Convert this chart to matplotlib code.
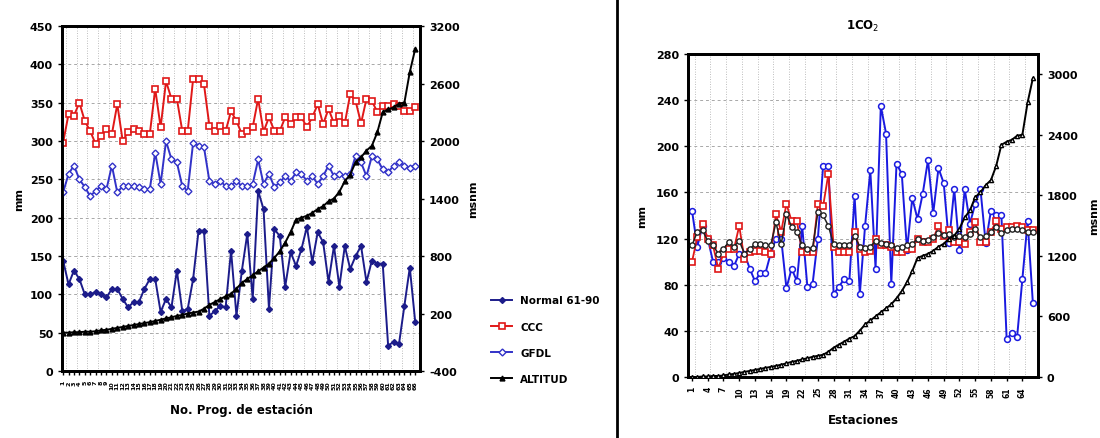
import matplotlib
matplotlib.use("Agg")
import matplotlib.pyplot as plt
from matplotlib.lines import Line2D

# stations ordered by altitude (same stations on both panels)
stations = list(range(1, 67))

normal_6190 = [144, 113, 131, 120, 100, 100, 103, 100, 96, 107,
               107, 94, 83, 90, 90, 107, 120, 120, 77, 94,
               83, 131, 78, 81, 120, 183, 183, 72, 78, 85,
               83, 157, 72, 131, 179, 94, 235, 211, 81, 185,
               176, 110, 155, 137, 159, 188, 142, 181, 168, 116,
               163, 110, 163, 133, 150, 163, 116, 144, 140, 140,
               33, 38, 35, 85, 135, 64]

altitud = [0, 0, 5, 5, 10, 10, 15, 25, 30, 40,
           50, 60, 70, 80, 90, 100, 110, 122, 135, 150,
           160, 175, 185, 200, 210, 220, 250, 290, 320, 350,
           380, 405, 460, 520, 560, 600, 640, 680, 720, 780,
           850, 940, 1050, 1180, 1200, 1220, 1250, 1290, 1320, 1370,
           1400, 1470, 1580, 1650, 1780, 1830, 1900, 1950, 2090, 2300,
           2330, 2350, 2390, 2400, 2720, 2960]

ccc_left = [298, 335, 333, 350, 326, 313, 296, 307, 316, 309,
            348, 300, 312, 316, 313, 309, 309, 368, 318, 378,
            355, 355, 313, 313, 381, 381, 374, 320, 313, 320,
            313, 339, 326, 309, 313, 318, 355, 312, 331, 313,
            313, 331, 322, 331, 331, 318, 331, 348, 322, 342,
            323, 333, 323, 361, 352, 323, 355, 352, 338, 346,
            346, 348, 346, 339, 339, 344]

gfdl_left = [233, 257, 268, 250, 240, 228, 235, 241, 237, 268,
             233, 241, 241, 241, 240, 237, 237, 285, 244, 300,
             276, 272, 241, 235, 298, 294, 292, 248, 244, 248,
             241, 241, 248, 241, 241, 244, 276, 244, 257, 240,
             246, 254, 248, 259, 257, 248, 254, 244, 254, 268,
             254, 257, 254, 257, 281, 272, 254, 280, 276, 263,
             259, 268, 272, 268, 265, 268]

ccc_1co2 = [100, 121, 133, 120, 114, 94, 107, 111, 111, 131,
            102, 108, 109, 109, 108, 107, 141, 126, 150, 135,
            135, 108, 108, 108, 150, 148, 176, 113, 108, 108,
            108, 126, 111, 108, 109, 120, 114, 114, 113, 108,
            108, 111, 111, 120, 117, 117, 120, 131, 122, 127,
            117, 117, 115, 126, 134, 117, 117, 126, 135, 128,
            130, 130, 131, 130, 127, 127]

gfdl_1co2 = [114, 126, 127, 118, 114, 107, 111, 117, 113, 118,
             107, 111, 115, 115, 114, 114, 134, 115, 141, 130,
             126, 114, 111, 112, 143, 140, 131, 115, 114, 114,
             114, 122, 113, 112, 113, 118, 116, 115, 114, 112,
             113, 114, 115, 120, 118, 119, 121, 125, 123, 124,
             121, 122, 121, 124, 128, 121, 122, 126, 130, 125,
             127, 128, 128, 127, 126, 126]

left_ticks = list(range(0, 451, 50))
left_alt_ticks = list(range(-400, 3201, 600))
right_ticks = list(range(0, 281, 40))
right_alt_ticks = list(range(0, 3001, 600))

NAVY = "#1c1c8a"
RED = "#e01818"
BLUE = "#3232c8"
BOLD = dict(fontweight="bold", family="DejaVu Sans")


def style_axes(ax, grid_step):
    for sp in ax.spines.values():
        sp.set_linewidth(2.0)
    for xv in [i + 0.5 for i in range(0, len(stations), grid_step)]:
        ax.axvline(xv, color="#a8a8a8", lw=0.6, ls=(0, (1, 2)), zorder=0)
    ax.yaxis.grid(True, color="#a8a8a8", lw=0.7, ls=(0, (3, 3)), zorder=0)
    ax.tick_params(axis="both", length=3, width=1)


def style_twin(ax):
    ax.tick_params(axis="y", length=3, width=1)
    for sp in ax.spines.values():
        sp.set_linewidth(2.0)


xs = list(range(len(stations)))

fig = plt.figure(figsize=(11, 4.39), dpi=100)

# ---- left panel
ax1 = fig.add_axes([0.0564, 0.1526, 0.3255, 0.7859])
style_axes(ax1, 2)
ax1.plot(xs, normal_6190, color=NAVY, lw=1.4, marker="D", ms=3,
         mfc=NAVY, mec=NAVY, label="Normal 61-90", zorder=3)
ax1.plot(xs, ccc_left, color=RED, lw=1.4, marker="s", ms=3.8,
         mfc="white", mec=RED, mew=1.2, label="CCC", zorder=3)
ax1.plot(xs, gfdl_left, color=BLUE, lw=1.4, marker="D", ms=3.5,
         mfc="white", mec=BLUE, mew=1.0, label="GFDL", zorder=3)
ax1.set_xlim(-0.2, 65.9)
ax1.set_ylim(0, 450)
ax1.set_yticks(left_ticks)
ax1.set_yticklabels([str(v) for v in left_ticks], fontsize=8, **BOLD)
ax1.set_xticks(xs)
ax1.set_xticklabels([str(s) for s in stations], rotation=90, fontsize=4.6, **BOLD)
ax1.set_ylabel("mm", fontsize=8, labelpad=4, **BOLD)
ax1.set_xlabel("No. Prog. de estación", fontsize=8.5, labelpad=10, **BOLD)

ax1b = ax1.twinx()
ax1b.plot(xs, altitud, color="black", lw=1.4, marker="^", ms=3.5,
          mfc="black", mec="black", label="ALTITUD", zorder=3)
ax1b.set_ylim(-400, 3200)
ax1b.set_yticks(left_alt_ticks)
ax1b.set_yticklabels([str(v) for v in left_alt_ticks], fontsize=8, **BOLD)
ax1b.set_ylabel("msnm", fontsize=8, labelpad=6, **BOLD)
style_twin(ax1b)

handles = list(ax1.lines[-3:]) + list(ax1b.lines)
fig.legend(handles, [h.get_label() for h in handles], loc="center left",
           bbox_to_anchor=(0.438, 0.224), frameon=False,
           prop=dict(size=7.5, weight="bold"), handlelength=2.0, labelspacing=1.55)

# ---- right panel
ax2 = fig.add_axes([0.6255, 0.139, 0.318, 0.7358])
style_axes(ax2, 3)
ax2.plot(xs, normal_6190, color="#1a1ae0", lw=1.4, marker="o", ms=4.2,
         mfc="white", mec="#1a1ae0", mew=1.1, zorder=3)
ax2.plot(xs, ccc_1co2, color=RED, lw=1.3, marker="s", ms=4.2,
         mfc="white", mec=RED, mew=1.2, zorder=3)
ax2.plot(xs, gfdl_1co2, color="#202020", lw=1.1, marker="o", ms=3.8,
         mfc="white", mec="#202020", mew=1.0, zorder=4)
ax2.set_xlim(-0.76, 65.95)
ax2.set_ylim(0, 280)
ax2.set_yticks(right_ticks)
ax2.set_yticklabels([str(v) for v in right_ticks], fontsize=8, **BOLD)
ax2.set_xticks(xs[::3])
ax2.set_xticklabels([str(s) for s in stations[::3]], rotation=90, fontsize=5.5, **BOLD)
ax2.set_ylabel("mm", fontsize=8, labelpad=6, **BOLD)
ax2.set_xlabel("Estaciones", fontsize=8.5, labelpad=12, **BOLD)
ax2.set_title("1CO$_2$", fontsize=8.5, pad=18, **BOLD)

ax2b = ax2.twinx()
ax2b.plot(xs, altitud, color="black", lw=1.4, marker="^", ms=3,
          mfc="white", mec="black", zorder=3)
ax2b.set_ylim(0, 3200)
ax2b.set_yticks(right_alt_ticks)
ax2b.set_yticklabels([str(v) for v in right_alt_ticks], fontsize=8, **BOLD)
ax2b.set_ylabel("msnm", fontsize=8, labelpad=8, **BOLD)
style_twin(ax2b)

# separator between the two panels
fig.add_artist(Line2D([0.5605, 0.5605], [0, 1], color="black", lw=2,
                      transform=fig.transFigure))

fig.savefig("out.png", dpi=100)
